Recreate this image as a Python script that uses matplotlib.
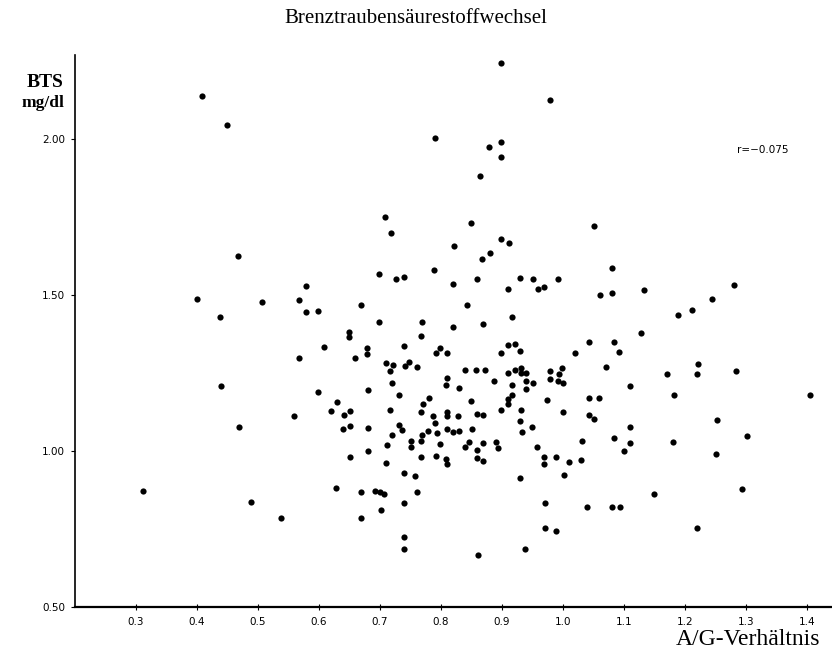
import matplotlib
matplotlib.use("Agg")
import matplotlib.pyplot as plt

# A/G-Verhältnis (x) und BTS mg/dl (y)
ag_ratio = [
    0.409, 0.449,
    0.898, 0.978, 0.790, 0.898, 0.878, 0.898, 0.864, 0.709, 0.849, 0.718, 0.899, 0.911,
    1.050,
    0.468, 0.579, 0.400, 0.507, 0.567, 0.579, 0.598, 0.438, 0.568, 0.439, 0.599, 0.559,
    0.821, 0.880, 0.867, 0.789, 0.699, 0.726, 0.739, 0.820, 0.859, 0.929,
    0.950, 0.909, 0.959, 0.969, 0.992, 0.669, 0.842, 0.699, 0.769, 0.869,
    0.917, 0.819, 0.649, 0.649, 0.768, 0.609, 0.678, 0.678, 0.739, 0.799,
    0.791, 0.810, 0.910, 0.922, 0.899, 0.930, 0.659, 0.710, 0.721, 0.716,
    0.741, 0.748, 0.760, 0.840, 0.858, 0.872, 0.909, 0.921, 0.931, 0.931,
    0.940, 0.979, 0.999, 0.994, 0.979, 0.992, 1.000, 0.809, 0.808, 0.830,
    0.887, 0.916, 0.940, 0.950, 0.940, 0.719, 0.680, 0.731, 0.629, 0.619,
    0.641, 0.650, 0.716, 0.770, 0.780, 0.768, 0.787, 0.809, 0.809, 0.828,
    0.849, 0.859, 0.868, 0.899, 0.909, 0.910, 0.917, 0.931, 0.973, 1.000,
    1.080, 1.060, 1.081, 1.132, 1.280, 1.244, 1.212, 1.189, 1.128, 1.042,
    1.084, 1.019, 1.092, 1.071, 1.221, 1.171, 1.220, 1.284, 1.110, 1.182,
    1.404, 1.043, 1.059, 1.043, 1.050, 1.252,
    0.469, 0.311, 0.488, 0.538,
    0.929, 0.640, 0.650, 0.681, 0.731, 0.736, 0.720, 0.790, 0.779, 0.769,
    0.793, 0.810, 0.820, 0.830, 0.850, 0.932, 0.949, 0.751, 0.751, 0.768,
    0.711, 0.681, 0.650, 0.710, 0.768, 0.792, 0.799, 0.808, 0.810, 0.840,
    0.846, 0.859, 0.859, 0.869, 0.869, 0.890, 0.894, 0.957, 0.969, 0.969,
    0.989, 1.009, 1.001, 0.739, 0.758, 0.929, 0.628, 0.669, 0.692, 0.700,
    0.707, 0.760, 0.740, 0.701, 0.669, 0.970, 0.971, 0.989, 0.739, 0.740,
    0.861, 0.937,
    1.110, 1.031, 1.084, 1.110, 1.100, 1.180, 1.301, 1.251, 1.030, 1.149,
    1.293, 1.039, 1.081, 1.094, 1.220,
]
bts = [
    2.138, 2.046,
    2.245, 2.125, 2.003, 1.989, 1.973, 1.943, 1.883, 1.751, 1.731, 1.698, 1.678, 1.666,
    1.721,
    1.626, 1.528, 1.487, 1.479, 1.483, 1.447, 1.450, 1.429, 1.298, 1.210, 1.189, 1.111,
    1.658, 1.636, 1.615, 1.579, 1.567, 1.552, 1.558, 1.536, 1.550, 1.555,
    1.550, 1.520, 1.518, 1.526, 1.550, 1.469, 1.467, 1.415, 1.412, 1.408,
    1.428, 1.399, 1.382, 1.364, 1.368, 1.335, 1.329, 1.310, 1.337, 1.330,
    1.315, 1.314, 1.339, 1.344, 1.315, 1.320, 1.299, 1.281, 1.276, 1.258,
    1.274, 1.285, 1.268, 1.261, 1.261, 1.261, 1.251, 1.260, 1.267, 1.250,
    1.250, 1.258, 1.265, 1.247, 1.231, 1.225, 1.218, 1.233, 1.211, 1.202,
    1.226, 1.211, 1.224, 1.217, 1.199, 1.218, 1.195, 1.178, 1.158, 1.129,
    1.114, 1.129, 1.131, 1.150, 1.169, 1.125, 1.111, 1.125, 1.111, 1.113,
    1.161, 1.120, 1.114, 1.130, 1.167, 1.151, 1.178, 1.132, 1.165, 1.126,
    1.586, 1.500, 1.508, 1.516, 1.531, 1.487, 1.451, 1.436, 1.377, 1.349,
    1.350, 1.315, 1.317, 1.270, 1.280, 1.247, 1.247, 1.258, 1.210, 1.179,
    1.179, 1.169, 1.169, 1.117, 1.104, 1.101,
    1.078, 0.873, 0.838, 0.784,
    1.097, 1.071, 1.079, 1.074, 1.082, 1.066, 1.051, 1.090, 1.065, 1.051,
    1.058, 1.071, 1.060, 1.063, 1.072, 1.060, 1.078, 1.032, 1.014, 1.033,
    1.019, 1.000, 0.982, 0.962, 0.981, 0.985, 1.021, 0.973, 0.958, 1.013,
    1.028, 1.003, 0.977, 1.025, 0.969, 1.030, 1.010, 1.012, 0.981, 0.959,
    0.981, 0.964, 0.923, 0.931, 0.920, 0.912, 0.881, 0.870, 0.872, 0.868,
    0.862, 0.870, 0.833, 0.812, 0.784, 0.833, 0.754, 0.744, 0.725, 0.687,
    0.668, 0.685,
    1.077, 1.031, 1.043, 1.027, 1.000, 1.028, 1.049, 0.989, 0.971, 0.862,
    0.878, 0.822, 0.821, 0.822, 0.754,
]

x_ticks = [0.3, 0.4, 0.5, 0.6, 0.7, 0.8, 0.9, 1.0, 1.1, 1.2, 1.3, 1.4]
x_tick_labels = ['0.3', '0.4', '0.5', '0.6', '0.7', '0.8', '0.9', '1.0', '1.1', '1.2', '1.3', '1.4']
y_ticks = [0.5, 1.0, 1.5, 2.0]
y_tick_labels = ['0.50', '1.00', '1.50', '2.00']

serif = ['Liberation Serif', 'DejaVu Serif']

fig = plt.figure(figsize=(8.32, 6.57), dpi=100)
ax = fig.add_axes([0.0901, 0.0761, 0.91, 0.840])

ax.scatter(ag_ratio, bts, s=20, color='black', linewidths=0)

ax.set_xlim(0.2, 1.441)
ax.set_ylim(0.5, 2.269)
ax.spines['top'].set_visible(False)
ax.spines['right'].set_visible(False)
ax.spines['left'].set_linewidth(1.2)
ax.spines['bottom'].set_linewidth(1.6)

ax.set_xticks(x_ticks)
ax.set_xticklabels(x_tick_labels, fontsize=7.5)
ax.set_yticks(y_ticks)
ax.set_yticklabels(y_tick_labels, fontsize=7.5)
ax.tick_params(axis='x', direction='inout', length=4, width=0.8, pad=5)
ax.tick_params(axis='y', direction='out', length=3, width=0.8, pad=4)

ax.text(1.285, 1.965, 'r=\u22120.075', fontsize=7.5, ha='left', va='center')

fig.text(0.500, 0.972, 'Brenztraubensäurestoffwechsel', family=serif,
         fontsize=15, ha='center', va='center')
fig.text(0.054, 0.875, 'BTS', family=serif, fontsize=14, fontweight='bold',
         ha='center', va='center')
fig.text(0.052, 0.843, 'mg/dl', family=serif, fontsize=12.5, fontweight='bold',
         ha='center', va='center')
fig.text(0.986, 0.026, 'A/G-Verhältnis', family=serif, fontsize=17,
         ha='right', va='center')

fig.savefig('out.png', dpi=100)
